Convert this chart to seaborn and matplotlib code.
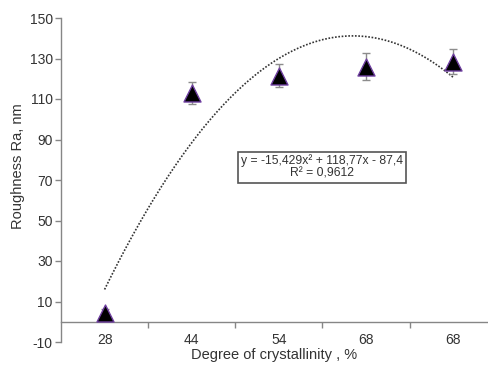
import numpy as np
import pandas as pd
import matplotlib
matplotlib.use("Agg")
import matplotlib.pyplot as plt
import seaborn as sns

# Data
categories = ["28", "44", "54", "68", "68"]
roughness = [4.5, 112.8, 121.6, 126.0, 128.4]
errors = [2.0, 5.5, 5.5, 6.6, 6.2]
# Polynomial trendline coefficients shown on the chart (x = 1..5)
coef_a, coef_b, coef_c = -15.429, 118.77, -87.4
equation_text = "y = -15,429x² + 118,77x - 87,4\nR² = 0,9612"
y_ticks = [-10, 10, 30, 50, 70, 90, 110, 130, 150]

sns.set_theme(style="white")
plt.rcParams["font.family"] = ["Liberation Sans", "DejaVu Sans"]
plt.rcParams["axes.unicode_minus"] = False

fig = plt.figure(figsize=(4.88, 3.65), dpi=100)
ax = fig.add_axes([61 / 488, 1 - 342 / 365, 1 - 61 / 488, (342 - 18) / 365])

pos = np.arange(len(categories))
df = pd.DataFrame({"pos": pos, "Ra": roughness, "err": errors})

# trendline
xs = np.linspace(1, 5, 200)
trend = pd.DataFrame({"pos": xs - 1, "y": coef_a * xs**2 + coef_b * xs + coef_c})
sns.lineplot(data=trend, x="pos", y="y", ax=ax, color="#333333",
             linestyle=(0, (1, 1)), linewidth=1.2, zorder=2)

ax.errorbar(df["pos"], df["Ra"], yerr=df["err"], fmt="none",
            ecolor="#8c8c8c", elinewidth=1.0, capsize=3, capthick=1.0, zorder=3)
sns.scatterplot(data=df, x="pos", y="Ra", ax=ax, marker="^", s=150,
                color="black", edgecolor="#6f3fa0", linewidth=1.0, zorder=4)

ax.set_xlim(-0.5, 4.4)
ax.set_ylim(-10, 150)
ax.set_yticks(y_ticks)
ax.set_xticks(pos)
ax.set_xticklabels(categories)
ax.set_xticks(pos[:-1] + 0.5, minor=True)

axis_col = "#868686"
text_col = "#333333"
for s in ["top", "right"]:
    ax.spines[s].set_visible(False)
ax.spines["left"].set_color(axis_col)
ax.spines["bottom"].set_color(axis_col)
ax.spines["bottom"].set_position(("data", 0))
ax.spines["left"].set_linewidth(1.0)
ax.spines["bottom"].set_linewidth(1.0)

ax.tick_params(axis="y", which="major", length=4, width=1, color=axis_col,
               direction="out", labelsize=10, labelcolor=text_col, pad=2, left=True)
ax.tick_params(axis="x", which="major", length=0, labelsize=10,
               labelcolor=text_col, pad=8)
ax.tick_params(axis="x", which="minor", length=4, width=1, color=axis_col,
               direction="out", bottom=True)

ax.set_xlabel("Degree of crystallinity , %", fontsize=10.5, color=text_col)
ax.set_ylabel("Roughness Ra, nm", fontsize=10.5, color=text_col)
ax.xaxis.set_label_coords(0.5, -0.040)
ax.xaxis.label.set_va("center")
ax.yaxis.set_label_coords(-0.100, 0.543)
ax.yaxis.label.set_va("center")

ax.text(3.42, 76.3, equation_text, ha="right", va="center", multialignment="center",
        fontsize=8.7, color=text_col, linespacing=1.05,
        bbox=dict(boxstyle="square,pad=0.25", facecolor="white",
                  edgecolor="#555555", linewidth=1.2), zorder=5)

ax.grid(False)
fig.savefig("out.png", dpi=100)
